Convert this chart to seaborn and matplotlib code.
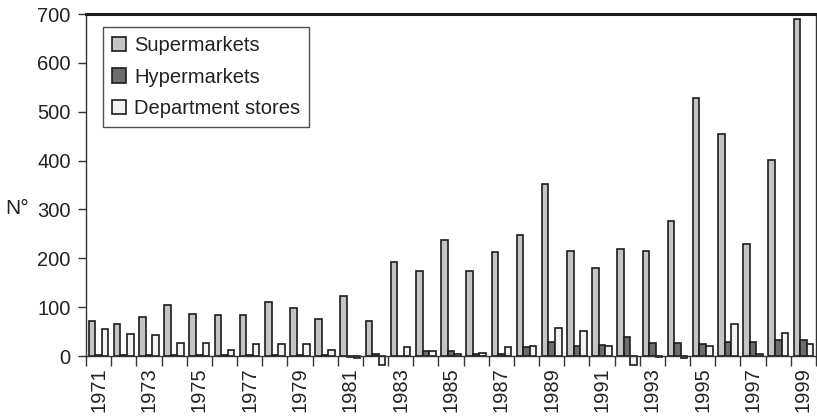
import numpy as np
import pandas as pd
import matplotlib
matplotlib.use("Agg")
import matplotlib.pyplot as plt
import seaborn as sns

years = list(range(1971, 2000))
supermarkets = [72, 66, 80, 104, 86, 84, 84, 111, 98, 75,
                123, 72, 192, 175, 238, 175, 212, 248, 352, 215,
                180, 218, 215, 277, 528, 455, 230, 402, 690]
hypermarkets = [2, 2, 2, 2, 2, 2, 2, 2, 2, 2,
                -2, 5, 1, 10, 10, 4, 5, 18, 28, 20,
                22, 38, 27, 27, 25, 28, 29, 33, 32]
department_stores = [55, 45, 43, 27, 27, 12, 24, 24, 24, 13,
                     -5, -18, 19, 10, 5, 7, 19, 20, 57, 52,
                     20, -18, -3, -5, 20, 65, 4, 48, 25]
series_names = ["Supermarkets", "Hypermarkets", "Department stores"]
ytick_values = [0, 100, 200, 300, 400, 500, 600, 700]

df = pd.DataFrame({
    "year": [str(y) for y in years] * 3,
    "value": supermarkets + hypermarkets + department_stores,
    "type": [series_names[0]] * len(years) + [series_names[1]] * len(years) + [series_names[2]] * len(years),
})

sns.set_theme(style="white")
plt.rcParams["font.family"] = ["Liberation Sans", "DejaVu Sans"]

fig = plt.figure(figsize=(8.17, 4.2), dpi=100)
ax = fig.add_axes([86 / 817, 1 - 356 / 420, (816 - 86) / 817, (356 - 14) / 420])

palette = {"Supermarkets": "#c4c4c4", "Hypermarkets": "#6c6c6c", "Department stores": "#f2f2f2"}
sns.barplot(data=df, x="year", y="value", hue="type", palette=palette, ax=ax,
            width=0.78, edgecolor="#1c1c1c", linewidth=1.2, saturation=1, legend=True)

for p in ax.patches:
    p.set_clip_on(False)

ax.set_ylim(0, 700)
ax.set_xlim(-0.5, len(years) - 0.5)
ax.set_yticks(ytick_values)
ax.set_yticklabels([str(v) for v in ytick_values], fontsize=14.5, color="#222222")

ax.set_xticks(range(len(years)))
ax.set_xticklabels([str(y) if i % 2 == 0 else "" for i, y in enumerate(years)],
                   rotation=90, fontsize=14.5, color="#222222")
ax.tick_params(axis="x", which="major", length=0, pad=8)
ax.set_xticks(np.arange(-0.5, len(years), 1.0), minor=True)
ax.tick_params(axis="x", which="minor", length=7, width=1, color="#333333", direction="out", bottom=True)
ax.tick_params(axis="y", which="major", length=6, width=1, color="#333333", direction="out", left=True, pad=5)

ax.set_xlabel("")
ax.set_ylabel("N°", rotation=0, fontsize=15, color="#222222", va="center", ha="center")
ax.yaxis.set_label_coords(-0.094, 0.43)

for side in ["left", "bottom", "right"]:
    ax.spines[side].set_visible(True)
    ax.spines[side].set_color("#333333")
    ax.spines[side].set_linewidth(1.0)
ax.spines["top"].set_visible(True)
ax.spines["top"].set_color("#1a1a1a")
ax.spines["top"].set_linewidth(2.2)

leg = ax.legend(loc="upper left", bbox_to_anchor=(0.023, 0.962), borderaxespad=0,
                fontsize=14.5, frameon=True, fancybox=False, edgecolor="#222222",
                handlelength=0.7, handleheight=0.7, handletextpad=0.4, labelspacing=0.62,
                borderpad=0.45, title=None)
leg.get_frame().set_linewidth(1.0)
for t in leg.get_texts():
    t.set_color("#222222")

fig.savefig("out.png", dpi=100)
